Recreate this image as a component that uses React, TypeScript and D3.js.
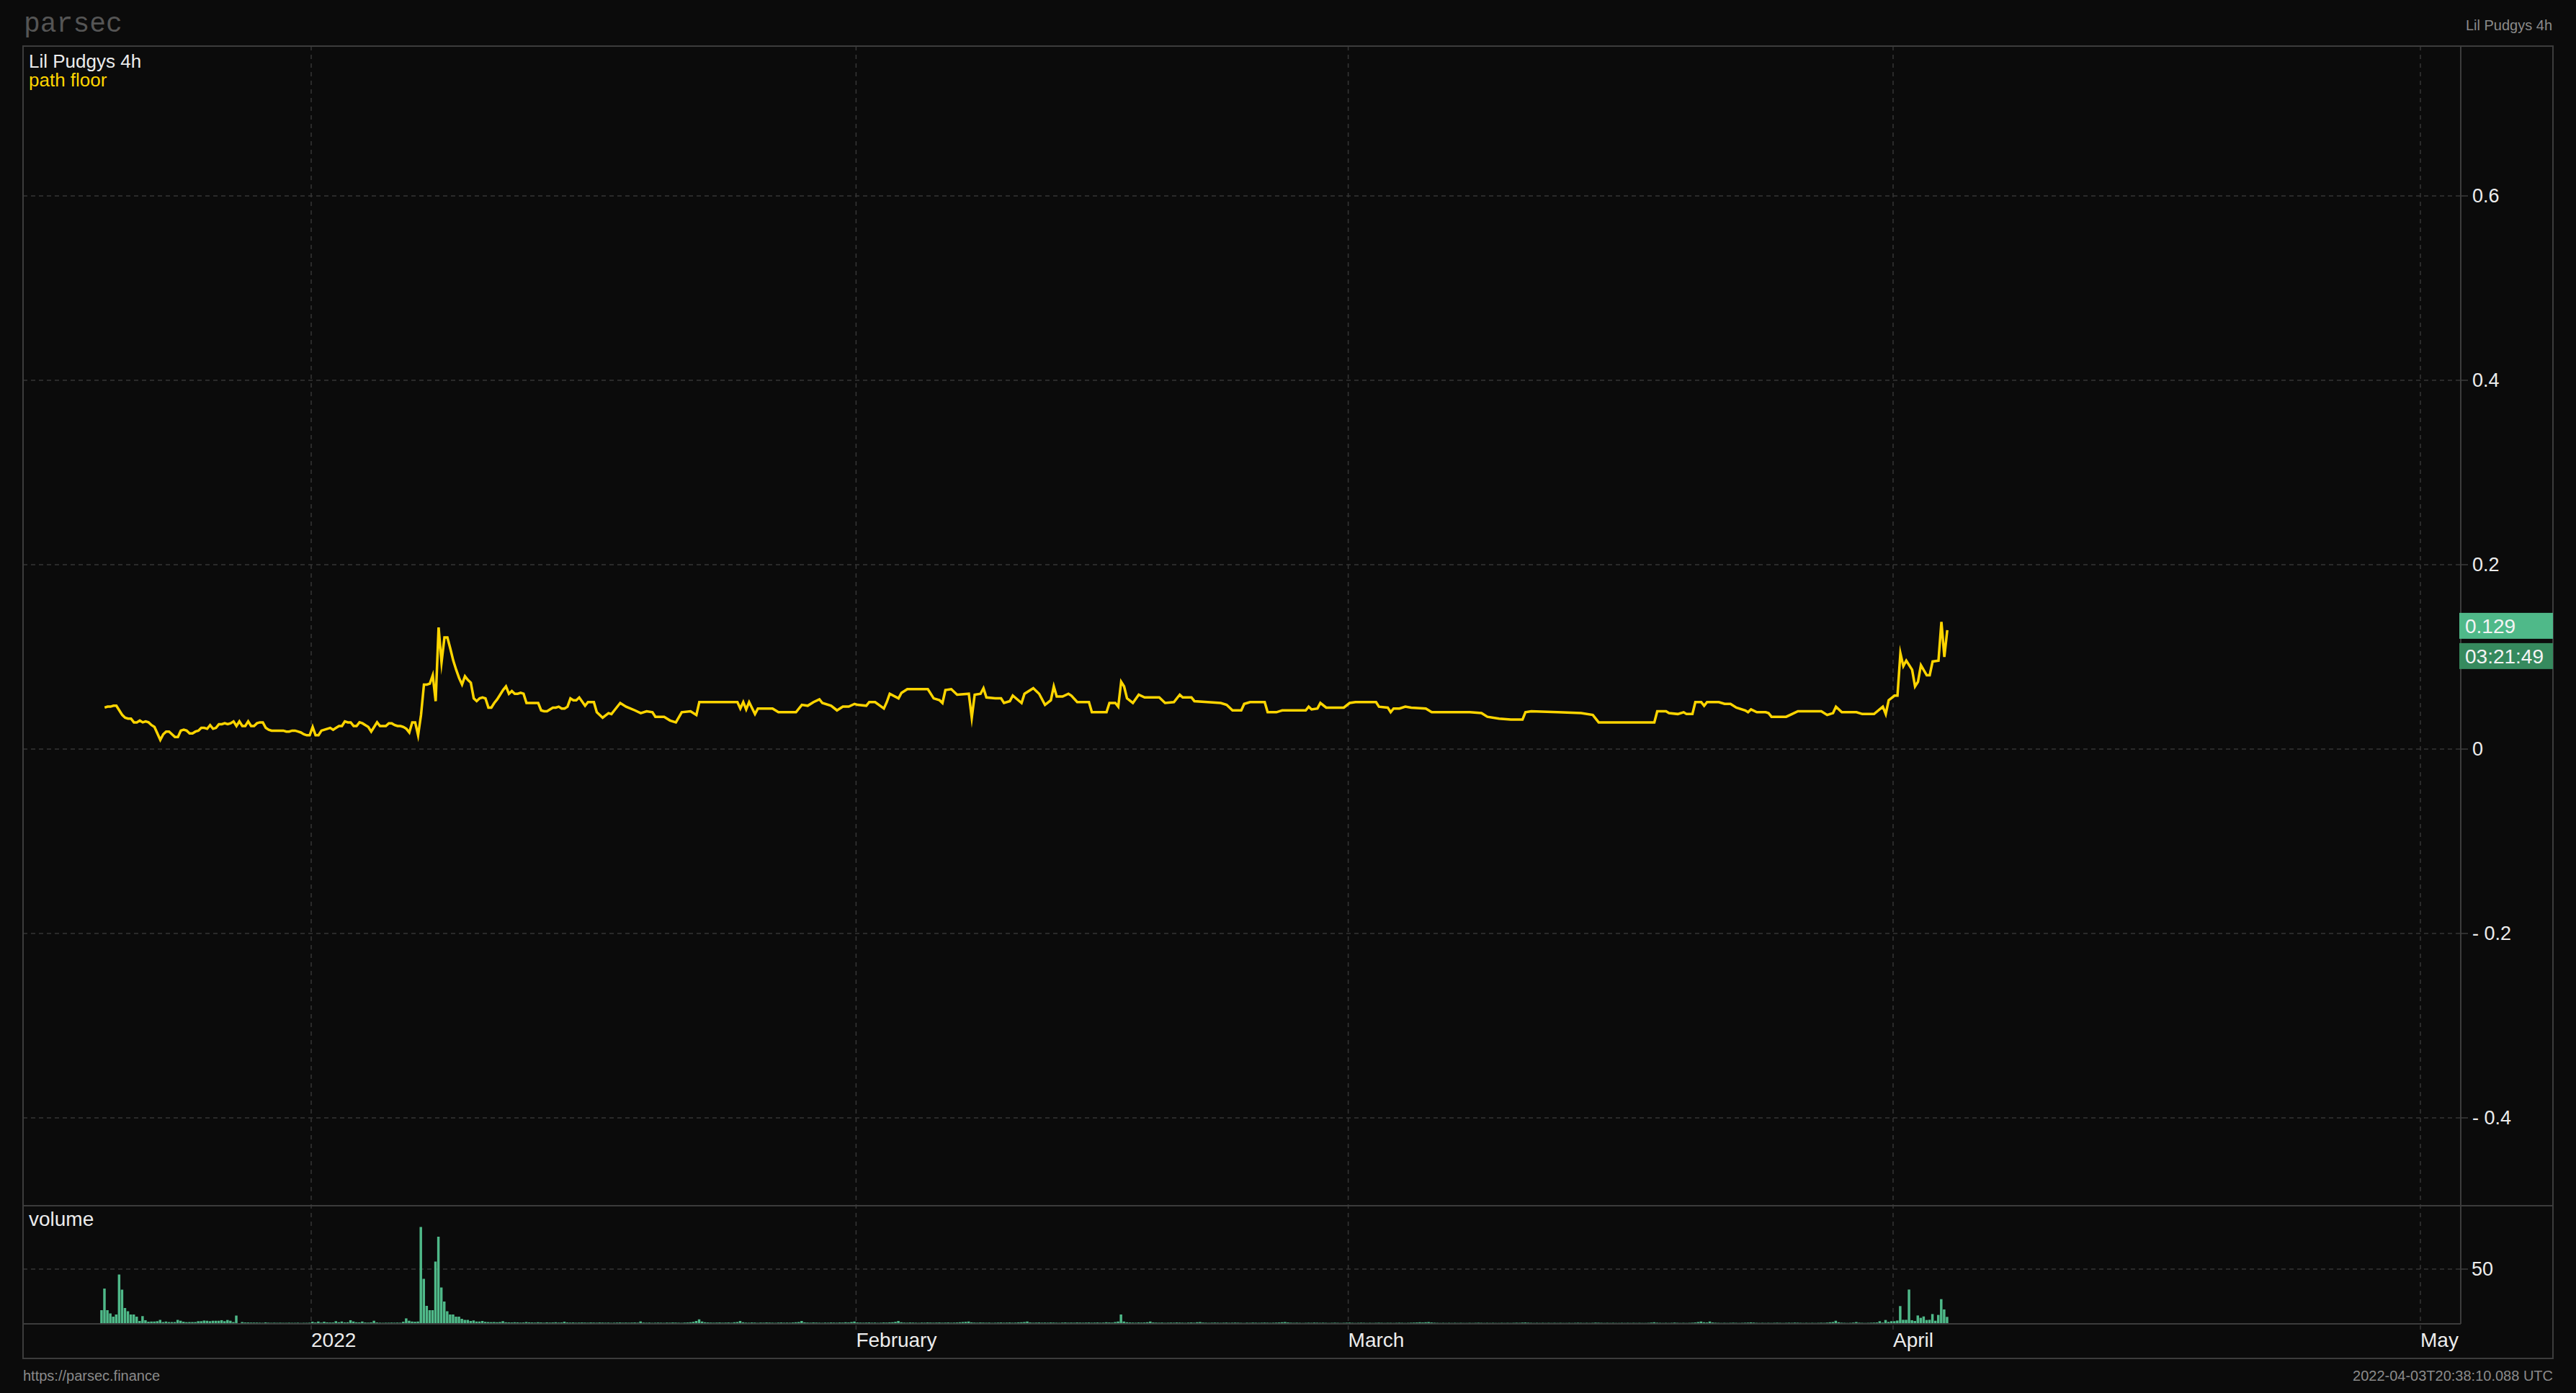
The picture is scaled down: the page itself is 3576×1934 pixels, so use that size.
import React from 'react';
import * as d3 from 'd3';

const W = 3576;
const H = 1934;

// 4h candles, first one opens 2021-12-20 00:00 UTC
const startTime = Date.UTC(2021, 11, 20, 0, 0);
const CANDLE_MS = 4 * 3600 * 1000;

const monthTicks = [
  { date: Date.UTC(2022, 0, 1), label: '2022' },
  { date: Date.UTC(2022, 1, 1), label: 'February' },
  { date: Date.UTC(2022, 2, 1), label: 'March' },
  { date: Date.UTC(2022, 3, 1), label: 'April' },
  { date: Date.UTC(2022, 4, 1), label: 'May' },
];

const priceTicks = [0.6, 0.4, 0.2, 0, -0.2, -0.4];
const volumeTicks = [50];

// [candle index, path floor]
const floorPoints: [number, number][] = [
  [1, .045], [2, .046], [3, .046], [4, .047], [5, .047], [6, .042], [7, .037], [8, .034], [9, .033], [10, .033],
  [11, .029], [12, .029], [13, .031], [14, .029], [15, .030], [16, .029], [17, .026], [18, .024], [19, .017], [20, .010],
  [21, .016], [22, .019], [23, .019], [24, .016], [25, .013], [26, .013], [27, .020], [28, .021], [29, .020], [30, .017],
  [31, .017], [32, .019], [33, .020], [34, .023], [35, .023], [36, .022], [37, .026], [38, .022], [39, .023], [40, .027],
  [41, .027], [42, .028], [43, .027], [44, .028], [45, .030], [46, .025], [47, .030], [48, .025], [49, .025], [50, .030],
  [51, .025], [52, .025], [53, .028], [54, .029], [55, .029], [56, .023], [57, .021], [58, .020], [59, .020], [60, .020],
  [61, .020], [62, .020], [63, .019], [64, .019], [65, .020], [66, .020], [67, .019], [68, .018], [69, .016], [70, .015],
  [71, .015], [72, .024], [73, .015], [74, .015], [75, .020], [76, .021], [77, .022], [78, .023], [79, .021], [80, .023],
  [81, .025], [82, .025], [83, .030], [84, .029], [85, .029], [86, .025], [87, .025], [88, .029], [89, .028], [90, .026],
  [91, .024], [92, .019], [93, .024], [94, .029], [95, .025], [96, .025], [97, .025], [98, .028], [99, .028], [100, .026],
  [101, .025], [102, .025], [103, .024], [104, .022], [105, .018], [106, .029], [107, .029], [108, .015], [109, .037], [110, .070],
  [111, .070], [112, .071], [113, .080], [114, .052], [115, .132], [116, .094], [117, .121], [118, .121], [119, .109], [120, .096],
  [121, .086], [122, .077], [123, .070], [124, .079], [125, .075], [126, .072], [127, .055], [128, .052], [129, .055], [130, .056],
  [131, .055], [132, .045], [133, .045], [134, .050], [135, .054], [136, .059], [137, .064], [138, .068], [139, .060], [140, .063],
  [141, .060], [142, .060], [143, .061], [144, .060], [145, .050], [146, .050], [147, .050], [148, .050], [149, .050], [150, .042],
  [151, .041], [152, .041], [153, .043], [154, .045], [155, .045], [156, .046], [157, .044], [158, .044], [159, .046], [160, .055],
  [161, .053], [162, .053], [163, .056], [165, .047], [166, .051], [168, .051], [169, .040], [171, .034], [173, .039], [174, .038],
  [175, .042], [177, .050], [179, .046], [182, .042], [184, .039], [186, .041], [188, .040], [189, .035], [192, .035], [194, .031],
  [196, .029], [198, .040], [201, .041], [203, .037], [204, .051], [217, .051], [218, .044], [219, .051], [220, .043], [221, .051],
  [223, .038], [224, .044], [229, .044], [231, .040], [237, .040], [239, .048], [241, .047], [243, .051], [245, .054], [246, .050],
  [249, .047], [251, .042], [253, .046], [255, .046], [257, .049], [258, .048], [261, .047], [262, .051], [264, .051], [267, .044],
  [268, .051], [269, .060], [272, .055], [273, .061], [275, .065], [282, .065], [284, .055], [286, .053], [287, .050], [288, .064],
  [290, .065], [292, .059], [296, .060], [297, .034], [298, .059], [300, .060], [301, .066], [302, .056], [305, .055], [307, .055],
  [308, .050], [310, .052], [311, .058], [314, .050], [315, .060], [318, .066], [320, .060], [322, .048], [324, .053], [325, .068],
  [326, .057], [328, .057], [330, .060], [331, .058], [333, .051], [337, .051], [338, .040], [343, .040], [344, .050], [346, .050],
  [347, .046], [348, .073], [349, .068], [350, .055], [352, .050], [354, .059], [356, .056], [361, .056], [363, .050], [366, .051],
  [368, .059], [369, .056], [372, .056], [373, .052], [382, .050], [384, .048], [386, .042], [389, .042], [390, .049], [392, .051],
  [397, .051], [398, .040], [401, .040], [403, .042], [411, .042], [412, .046], [413, .043], [415, .044], [416, .050], [418, .045],
  [424, .045], [426, .050], [428, .051], [435, .051], [436, .046], [439, .045], [440, .040], [441, .044], [443, .044], [445, .046],
  [447, .045], [452, .044], [454, .040], [467, .040], [471, .039], [473, .035], [477, .033], [481, .032], [485, .032], [486, .040],
  [488, .041], [497, .040], [505, .039], [509, .037], [511, .029], [518, .029], [519, .029], [530, .029], [531, .041], [534, .041],
  [535, .039], [538, .038], [540, .040], [541, .038], [543, .038], [544, .051], [546, .051], [547, .047], [548, .051], [552, .051],
  [554, .049], [556, .049], [558, .045], [561, .042], [562, .040], [563, .043], [565, .040], [568, .040], [569, .039], [570, .035],
  [575, .035], [577, .038], [579, .041], [587, .041], [589, .037], [591, .039], [592, .046], [594, .040], [599, .040], [601, .038],
  [605, .038], [608, .046], [609, .038], [610, .053], [612, .058], [613, .058], [614, .104], [615, .090], [616, .096], [618, .086],
  [619, .068], [620, .073], [621, .091], [623, .080], [624, .080], [625, .095], [627, .096], [628, .138], [629, .100], [630, .129],
];

// volume per 4h candle, index 0..630
const volumes: number[] = [
  12, 32, 12, 9, 6, 8, 45, 31, 14, 11, 8, 8, 6, 2, 6.5, 2.7, 1.3, 1.5, 1.5, 1.8,
  3, 1, 1.5, 1, 1, 1, 3, 2.2, 1.3, 0.9, 1, 1, 1, 1.8, 1.8, 2.4, 2.2, 1.8, 2.2, 2.2,
  2.2, 2.7, 1.8, 2.9, 2.2, 1, 7, 0, 1, 0.6, 0.6, 0.5, 0.5, 0.5, 0.4, 0.3, 0.7, 0.4, 0.3, 0.4,
  0.3, 0.4, 0.3, 0.3, 0.4, 0.3, 0.3, 0.4, 0.2, 0.3, 0.3, 0.4, 1.3, 0.6, 1.5, 0.5, 1.3, 0.7, 0.6, 0.6,
  1.8, 0.8, 1.5, 0.7, 0.8, 2.7, 1.5, 0.8, 0.7, 1.5, 0.6, 0.5, 0.7, 2.2, 0.6, 0.4, 0.3, 0.4, 0.4, 0.5,
  0.4, 0.5, 0.4, 1.3, 4.4, 2.2, 1.5, 1.3, 1.5, 89, 41, 16, 12, 12, 57, 80, 33, 20, 11, 8,
  8, 6, 6, 4, 3, 3, 2, 2.5, 1.5, 1.5, 2, 1.2, 1, 0.9, 1, 0.8, 1, 1.8, 0.8, 0.7,
  0.6, 0.8, 0.7, 0.5, 0.6, 1, 0.7, 0.6, 0.5, 0.8, 0.6, 0.4, 0.7, 0.5, 0.6, 0.8, 0.5, 0.6, 1.3, 0.6,
  0.5, 0.6, 0.4, 0.5, 0.6, 0.5, 0.4, 0.6, 0.5, 0.4, 0.6, 0.5, 0.4, 0.5, 0.3, 0.4, 0.5, 0.6, 0.4, 0.5,
  0.4, 0.5, 0.6, 0.4, 1.6, 0.5, 0.4, 0.5, 0.3, 0.4, 0.5, 0.4, 0.3, 0.5, 0.4, 0.6, 0.5, 0.4, 0.3, 0.5,
  0.6, 0.8, 1.2, 2, 3.5, 1.5, 0.8, 0.6, 0.5, 0.4, 0.5, 0.6, 0.4, 0.5, 0.6, 0.4, 0.8, 1, 2, 0.8,
  0.5, 0.4, 0.6, 0.5, 0.3, 0.5, 0.4, 0.6, 0.5, 0.4, 0.3, 0.5, 0.6, 0.4, 0.5, 0.4, 0.6, 0.8, 1, 2,
  0.7, 0.5, 0.4, 0.6, 0.5, 0.4, 0.3, 0.5, 0.4, 0.6, 0.5, 0.4, 0.6, 0.5, 0.8, 0.6, 1, 1.5, 0.6, 0.5,
  0.4, 0.5, 0.6, 0.4, 0.5, 0.3, 0.4, 0.6, 0.5, 0.7, 0.8, 1.2, 2, 0.8, 0.5, 0.4, 0.6, 0.5, 0.4, 0.3,
  0.5, 0.4, 0.6, 0.5, 0.4, 0.5, 0.6, 0.4, 0.5, 0.6, 0.4, 0.5, 0.6, 0.8, 1, 1.2, 1.5, 0.7, 0.5, 0.4,
  0.6, 0.5, 0.4, 0.5, 0.3, 0.4, 0.5, 0.6, 0.4, 0.5, 0.6, 0.4, 0.5, 0.7, 0.8, 1, 1.5, 0.6, 0.4, 0.5,
  0.6, 0.4, 0.5, 0.4, 0.6, 0.5, 0.4, 0.3, 0.5, 0.6, 0.4, 0.5, 0.4, 0.6, 0.5, 0.4, 0.5, 0.6, 0.4, 0.5,
  0.6, 0.4, 0.5, 0.8, 0.6, 0.5, 1, 1.5, 8, 1.5, 0.8, 0.6, 0.5, 0.4, 0.6, 0.5, 0.6, 0.8, 1.5, 0.6,
  0.5, 0.4, 0.5, 0.3, 0.4, 0.5, 0.4, 0.6, 0.5, 0.4, 0.3, 0.5, 0.6, 0.4, 0.8, 1, 0.5, 0.4, 0.3, 0.4,
  0.5, 0.4, 0.3, 0.4, 0.5, 0.3, 0.4, 0.5, 0.4, 0.3, 0.2, 0.4, 0.3, 0.5, 0.4, 0.3, 0.4, 0.5, 0.4, 0.3,
  0.4, 0.5, 0.6, 0.8, 1, 0.6, 0.4, 0.3, 0.4, 0.3, 0.2, 0.3, 0.4, 0.3, 0.5, 0.4, 0.3, 0.4, 0.3, 0.2,
  0.3, 0.4, 0.3, 0.2, 0.3, 0.4, 0.5, 0.3, 0.2, 0.3, 0.4, 0.3, 0.2, 0.3, 0.2, 0.3, 0.4, 0.3, 0.2, 0.3,
  0.3, 0.2, 0.3, 0.4, 0.3, 0.2, 0.3, 0.4, 0.5, 0.6, 0.8, 0.6, 0.8, 1, 0.6, 0.4, 0.3, 0.2, 0.3, 0.2,
  0.3, 0.2, 0.3, 0.2, 0.3, 0.2, 0.2, 0.3, 0.2, 0.3, 0.4, 0.3, 0.2, 0.3, 0.2, 0.3, 0.2, 0.2, 0.3, 0.2,
  0.3, 0.2, 0.3, 0.4, 0.3, 0.5, 0.6, 0.4, 0.3, 0.2, 0.3, 0.2, 0.3, 0.2, 0.3, 0.2, 0.3, 0.2, 0.3, 0.2,
  0.2, 0.3, 0.2, 0.3, 0.4, 0.3, 0.2, 0.3, 0.2, 0.3, 0.5, 0.4, 0.3, 0.2, 0.3, 0.2, 0.3, 0.2, 0.2, 0.3,
  0.2, 0.3, 0.2, 0.3, 0.2, 0.3, 0.2, 0.2, 0.3, 0.5, 0.8, 0.4, 0.3, 0.2, 0.3, 0.2, 0.3, 0.5, 0.3, 0.2,
  0.3, 0.2, 0.3, 0.4, 0.6, 1, 1.5, 0.8, 0.6, 1.5, 0.6, 0.4, 0.3, 0.2, 0.3, 0.2, 0.3, 0.4, 0.3, 0.2,
  0.3, 0.4, 0.5, 0.7, 0.5, 0.3, 0.2, 0.3, 0.2, 0.3, 0.2, 0.3, 0.4, 0.3, 0.2, 0.3, 0.4, 0.3, 0.5, 0.4,
  0.3, 0.2, 0.3, 0.2, 0.3, 0.2, 0.3, 0.4, 0.3, 0.5, 0.8, 1, 2.2, 0.8, 0.4, 0.3, 0.2, 0.3, 0.5, 1,
  0.4, 0.3, 0.2, 0.3, 0.4, 0.5, 0.6, 1.8, 0.5, 2.9, 1.1, 1.8, 1.8, 2.4, 15.8, 3.1, 3.1, 31.1, 2.7, 2,
  7.1, 4.9, 6.2, 2.9, 3.1, 8.4, 2.2, 7.6, 22.2, 12.7, 5.8,
];

const lastPriceLabel = '0.129';
const countdownLabel = '03:21:49';

const FONT = '"Liberation Sans", Arial, Helvetica, sans-serif';
const BG = '#0b0b0b';
const FRAME = '#3c3c3c';
const GRID = '#363636';
const TEXT = '#ececec';
const GOLD = '#ffd500';
const GREEN = '#4fb989';
const GREEN_DARK = '#368a5e';

const left = 32;
const top = 64;
const right = 3544;
const bottom = 1886;
const plotRight = 3416;
const mainBottom = 1674;
const volBottom = 1838;

const App: React.FC = () => {
  const candleTime = (i: number) => new Date(startTime + i * CANDLE_MS);

  const x = d3.scaleUtc()
    .domain([new Date(monthTicks[0].date), new Date(monthTicks[4].date)])
    .range([432, 3360]);

  const y = d3.scaleLinear().domain([-0.4, 0.6]).range([1552, 272]);
  const yVol = d3.scaleLinear().domain([0, 50]).range([1837, 1762]);

  const barW = x(candleTime(1)) - x(candleTime(0)) - 0.6;

  const line = d3.line<[number, number]>()
    .x(d => x(candleTime(d[0])) + 2)
    .y(d => y(d[1]));

  const last = floorPoints[floorPoints.length - 1];
  const lastY = y(last[1]);

  const fmtPrice = (v: number) => (v < 0 ? `- ${Math.abs(v)}` : `${v}`);

  return (
    <svg
      width={W}
      height={H}
      style={{ position: 'absolute', left: 0, top: 0, display: 'block', background: BG }}
      fontFamily={FONT}
    >
      <rect x={0} y={0} width={W} height={H} fill={BG} />

      {/* header */}
      <text x={33} y={44} fontFamily='"Liberation Mono", "DejaVu Sans Mono", monospace' fontSize={38} fill="#555">
        parsec
      </text>
      <text x={right - 1} y={42} fontSize={20} fill="#8a8a8a" textAnchor="end">Lil Pudgys 4h</text>

      {/* vertical month grid */}
      {monthTicks.map(t => (
        <line key={t.label} x1={x(new Date(t.date))} x2={x(new Date(t.date))} y1={top} y2={volBottom + 12}
          stroke={GRID} strokeWidth={1.5} strokeDasharray="6,6" />
      ))}

      {/* horizontal price grid */}
      {priceTicks.map(v => (
        <g key={v}>
          <line x1={left} x2={plotRight} y1={y(v)} y2={y(v)} stroke={GRID} strokeWidth={1.5} strokeDasharray="6,5" />
          <line x1={plotRight} x2={plotRight + 10} y1={y(v)} y2={y(v)} stroke={FRAME} strokeWidth={1.5} />
          <text x={3432} y={y(v)} dy="0.35em" fontSize={27} fill={TEXT}>{fmtPrice(v)}</text>
        </g>
      ))}

      {/* volume grid */}
      {volumeTicks.map(v => (
        <g key={v}>
          <line x1={left} x2={plotRight} y1={yVol(v)} y2={yVol(v)} stroke={GRID} strokeWidth={1.5} strokeDasharray="6,5" />
          <line x1={plotRight} x2={plotRight + 10} y1={yVol(v)} y2={yVol(v)} stroke={FRAME} strokeWidth={1.5} />
          <text x={3431} y={yVol(v)} dy="0.35em" fontSize={27} fill={TEXT}>{v}</text>
        </g>
      ))}

      {/* volume bars */}
      <g fill={GREEN}>
        {volumes.map((v, i) => (
          <rect key={i} x={x(candleTime(i))} y={yVol(v)} width={barW} height={yVol(0) - yVol(v)} />
        ))}
      </g>

      {/* path floor */}
      <path d={line(floorPoints) ?? ''} fill="none" stroke={GOLD} strokeWidth={3.5} strokeLinejoin="miter" strokeMiterlimit={10} />

      {/* frame and pane separators */}
      <rect x={left} y={top} width={right - left} height={bottom - top} fill="none" stroke={FRAME} strokeWidth={2} />
      <line x1={plotRight} x2={plotRight} y1={top} y2={volBottom} stroke={FRAME} strokeWidth={2} />
      <line x1={left} x2={right} y1={mainBottom} y2={mainBottom} stroke={FRAME} strokeWidth={2} />
      <line x1={left} x2={plotRight} y1={volBottom} y2={volBottom} stroke={FRAME} strokeWidth={2} />

      {/* pane labels */}
      <text x={40} y={94} fontSize={26} fill={TEXT}>Lil Pudgys 4h</text>
      <text x={40} y={120} fontSize={26} fill={GOLD}>path floor</text>
      <text x={40} y={1702} fontSize={28} fill={TEXT}>volume</text>

      {/* month labels */}
      {monthTicks.map(t => (
        <text key={t.label} x={x(new Date(t.date))} y={1870} fontSize={28} fill={TEXT}>{t.label}</text>
      ))}

      {/* last value badges */}
      <rect x={plotRight - 2} y={lastY - 24} width={right - plotRight + 2} height={36} fill={GREEN} />
      <text x={3422} y={lastY - 6} dy="0.35em" fontSize={28} fill="#f4f4f4">{lastPriceLabel}</text>
      <rect x={plotRight - 2} y={lastY + 18} width={right - plotRight + 2} height={36} fill={GREEN_DARK} />
      <text x={3422} y={lastY + 36} dy="0.35em" fontSize={28} fill="#f4f4f4">{countdownLabel}</text>

      {/* footer */}
      <text x={32} y={1917} fontSize={20} fill="#8a8a8a">https://parsec.finance</text>
      <text x={right} y={1917} fontSize={20} fill="#8a8a8a" textAnchor="end">2022-04-03T20:38:10.088 UTC</text>
    </svg>
  );
};

export default App;
